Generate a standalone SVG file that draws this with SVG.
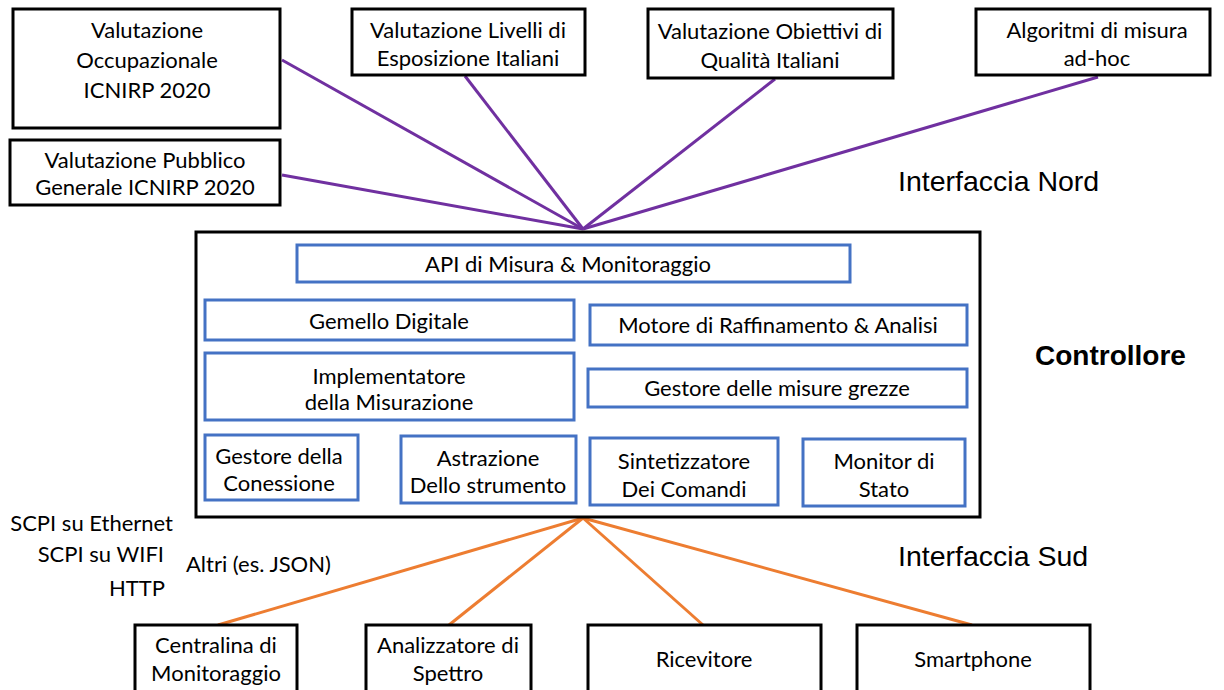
<svg xmlns="http://www.w3.org/2000/svg" width="1224" height="690" viewBox="0 0 1224 690">
  <style>
    .box { fill: #ffffff; stroke: #000000; stroke-width: 3; }
    .mod { fill: #ffffff; stroke: #4472C4; stroke-width: 3; }
    .t { font-family: Lato, "Liberation Sans", sans-serif; font-size: 22px; fill: #000000; text-anchor: middle; }
    .tl { font-family: Lato, "Liberation Sans", sans-serif; font-size: 22px; fill: #000000; }
    .tr { font-family: Lato, "Liberation Sans", sans-serif; font-size: 22px; fill: #000000; text-anchor: end; }
    .big { font-family: "Liberation Sans", Arial, sans-serif; font-size: 28.5px; fill: #000000; }
    .bold { font-family: "Liberation Sans", Arial, sans-serif; font-size: 28px; font-weight: bold; fill: #000000; }
    .north { stroke: #7030A0; stroke-width: 3; fill: none; }
    .south { stroke: #ED7D31; stroke-width: 3; fill: none; }
  </style>
  <rect width="1224" height="690" fill="#ffffff"/>

  <!-- connectors -->
  <g id="connectors">
    <line class="north" x1="282" y1="60" x2="583" y2="229"/>
    <line class="north" x1="282" y1="175" x2="583" y2="229"/>
    <line class="north" x1="465" y1="76" x2="583" y2="229"/>
    <line class="north" x1="775" y1="79" x2="583" y2="229"/>
    <line class="north" x1="1098" y1="77" x2="583" y2="229"/>
    <line class="south" x1="583" y1="518" x2="218" y2="625"/>
    <line class="south" x1="583" y1="518" x2="449" y2="625"/>
    <line class="south" x1="583" y1="518" x2="703" y2="625"/>
    <line class="south" x1="583" y1="518" x2="972" y2="625"/>
  </g>

  <!-- northbound applications -->
  <g id="occupazionale">
    <rect class="box" x="13" y="9" width="267" height="119"/>
    <text class="t" x="147" y="38">Valutazione</text>
    <text class="t" x="147" y="68">Occupazionale</text>
    <text class="t" x="147" y="98">ICNIRP 2020</text>
  </g>
  <g id="pubblico">
    <rect class="box" x="10" y="140" width="270" height="65"/>
    <text class="t" x="145" y="168">Valutazione Pubblico</text>
    <text class="t" x="145" y="195">Generale ICNIRP 2020</text>
  </g>
  <g id="livelli">
    <rect class="box" x="352" y="9" width="233" height="66"/>
    <text class="t" x="468" y="38">Valutazione Livelli di</text>
    <text class="t" x="468" y="66">Esposizione Italiani</text>
  </g>
  <g id="obiettivi">
    <rect class="box" x="648" y="9" width="245" height="69"/>
    <text class="t" x="770" y="39">Valutazione Obiettivi di</text>
    <text class="t" x="770" y="68">Qualità Italiani</text>
  </g>
  <g id="algoritmi">
    <rect class="box" x="976" y="9" width="234" height="66"/>
    <text class="t" x="1097" y="38">Algoritmi di misura</text>
    <text class="t" x="1097" y="66">ad-hoc</text>
  </g>

  <text class="big" x="898" y="191">Interfaccia Nord</text>
  <text class="bold" x="1035" y="365">Controllore</text>
  <text class="big" x="898" y="566">Interfaccia Sud</text>

  <!-- controller -->
  <g id="controllore">
    <rect class="box" x="196" y="232" width="784" height="285"/>
  </g>
  <g id="api">
    <rect class="mod" x="297" y="245" width="553" height="37"/>
    <text class="t" x="568" y="272">API di Misura &amp; Monitoraggio</text>
  </g>
  <g id="gemello">
    <rect class="mod" x="205" y="300" width="369" height="40"/>
    <text class="t" x="389" y="329">Gemello Digitale</text>
  </g>
  <g id="motore">
    <rect class="mod" x="590" y="305" width="377" height="40"/>
    <text class="t" x="778" y="333">Motore di Raffinamento &amp; Analisi</text>
  </g>
  <g id="implementatore">
    <rect class="mod" x="205" y="353" width="369" height="67"/>
    <text class="t" x="389" y="384">Implementatore</text>
    <text class="t" x="389" y="410">della Misurazione</text>
  </g>
  <g id="grezze">
    <rect class="mod" x="588" y="369" width="379" height="38"/>
    <text class="t" x="777" y="396">Gestore delle misure grezze</text>
  </g>
  <g id="connessione">
    <rect class="mod" x="205" y="435" width="153" height="65"/>
    <text class="t" x="279" y="464">Gestore della</text>
    <text class="t" x="279" y="491">Conessione</text>
  </g>
  <g id="astrazione">
    <rect class="mod" x="401" y="436" width="175" height="67"/>
    <text class="t" x="488" y="466">Astrazione</text>
    <text class="t" x="488" y="493">Dello strumento</text>
  </g>
  <g id="sintetizzatore">
    <rect class="mod" x="590" y="438" width="188" height="67"/>
    <text class="t" x="684" y="469">Sintetizzatore</text>
    <text class="t" x="684" y="497">Dei Comandi</text>
  </g>
  <g id="monitor">
    <rect class="mod" x="803" y="439" width="162" height="67"/>
    <text class="t" x="884" y="469">Monitor di</text>
    <text class="t" x="884" y="497">Stato</text>
  </g>

  <!-- protocol labels -->
  <text class="tr" x="173" y="531">SCPI su Ethernet</text>
  <text class="tr" x="164" y="562">SCPI su WIFI</text>
  <text class="tr" x="165" y="596">HTTP</text>
  <text class="tl" x="186" y="572">Altri (es. JSON)</text>

  <!-- southbound devices -->
  <g id="centralina">
    <rect class="box" x="135" y="625" width="162" height="70"/>
    <text class="t" x="216" y="653">Centralina di</text>
    <text class="t" x="216" y="681">Monitoraggio</text>
  </g>
  <g id="analizzatore">
    <rect class="box" x="366" y="625" width="165" height="70"/>
    <text class="t" x="448" y="653">Analizzatore di</text>
    <text class="t" x="448" y="681">Spettro</text>
  </g>
  <g id="ricevitore">
    <rect class="box" x="588" y="625" width="233" height="70"/>
    <text class="t" x="704" y="667">Ricevitore</text>
  </g>
  <g id="smartphone">
    <rect class="box" x="857" y="625" width="233" height="70"/>
    <text class="t" x="973" y="667">Smartphone</text>
  </g>
</svg>
